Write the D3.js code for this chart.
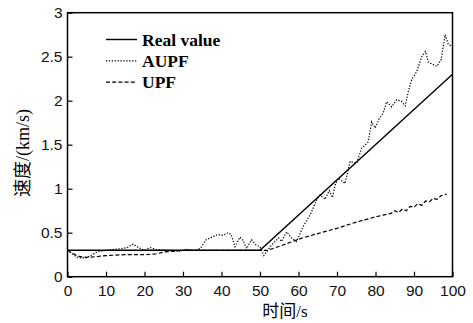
<!DOCTYPE html>
<html><head><meta charset="utf-8">
<script src="https://cdn.jsdelivr.net/npm/d3@7"></script>
<style>body{margin:0;background:#fff}svg{display:block}</style>
</head><body>
<svg id="c" width="473" height="323"></svg>
<script>
const xTicks = [0,10,20,30,40,50,60,70,80,90,100];
const yTicks = [0,0.5,1,1.5,2,2.5,3];
const yTickLabels = ["0","0.5","1","1.5","2","2.5","3"];

const realT = [0, 50, 100];
const realV = [0.3, 0.3, 2.3];

const aupfT = [0,1,2.5,4.5,6,7.6,10,12,14,15.5,17,18.5,20,21.5,23,25,27,29,31,33,34.5,36,37.5,39,40.4,41.7,42.5,43.5,44.8,45.5,46.5,47.8,49,50,51,53,54.8,55.6,56.9,58.2,59.5,61.2,63,64.7,65.6,66.9,68,68.8,69.5,70.3,72.1,73.4,75.1,76.4,78.1,79,79.9,81,82,82.9,84.2,85.5,86.8,87.7,88.5,89.4,90.7,92,93,93.7,95,95.9,97,98.1,98.9,99.8];
const aupfV = [0.3,0.27,0.22,0.21,0.24,0.28,0.3,0.31,0.32,0.33,0.37,0.33,0.3,0.33,0.31,0.3,0.3,0.29,0.31,0.3,0.32,0.42,0.45,0.48,0.47,0.5,0.48,0.34,0.45,0.42,0.32,0.42,0.36,0.34,0.24,0.36,0.44,0.4,0.51,0.44,0.4,0.57,0.7,0.87,0.93,0.88,0.98,0.9,1.04,1.12,1.06,1.31,1.29,1.46,1.53,1.76,1.69,1.8,1.86,1.99,1.93,2.01,1.99,1.94,2.1,2.24,2.33,2.5,2.56,2.44,2.41,2.39,2.46,2.75,2.64,2.62];

const upfT = [0,1,3,5,8,10,15,20,23,25,30,35,40,45,50,52,56,61,65,70,75,80,82,84,85,86,87,88,89,90,91,92,93,94,95,96,97,98.5];
const upfV = [0.3,0.27,0.23,0.22,0.23,0.24,0.25,0.25,0.26,0.28,0.3,0.3,0.3,0.3,0.3,0.3,0.36,0.44,0.49,0.55,0.62,0.68,0.7,0.72,0.75,0.73,0.77,0.75,0.8,0.79,0.83,0.81,0.86,0.85,0.89,0.88,0.92,0.94];

const legendNames = ["Real value","AUPF","UPF"];

const svg = d3.select("#c");
const L = 67.5, R = 452.5, T = 12.7, B = 276.7;
const x = d3.scaleLinear().domain([0,100]).range([L,R]);
const y = d3.scaleLinear().domain([0,3]).range([B,T]);

const line = d3.line().x(d=>x(d[0])).y(d=>y(d[1]));
const zip = (a,b)=>a.map((t,i)=>[t,b[i]]);

const styles = [
  {dash:null, w:1.4},
  {dash:"1.3,1.6", w:1.2},
  {dash:"4,2.2", w:1.2}
];
const series = [zip(realT,realV), zip(aupfT,aupfV), zip(upfT,upfV)];

svg.append("clipPath").attr("id","pc").append("rect")
  .attr("x",L).attr("y",T).attr("width",R-L).attr("height",B-T);

const g = svg.append("g").attr("clip-path","url(#pc)");
series.forEach((s,i)=>{
  g.append("path").datum(s).attr("d",line).attr("fill","none")
   .attr("stroke","#000").attr("stroke-width",styles[i].w)
   .attr("stroke-dasharray",styles[i].dash);
});

const xa = svg.append("g").attr("transform",`translate(0,${B})`)
  .call(d3.axisBottom(x).tickValues(xTicks).tickSize(-5).tickPadding(8).tickSizeOuter(0));
const ya = svg.append("g").attr("transform",`translate(${L},0)`)
  .call(d3.axisLeft(y).tickValues(yTicks).tickFormat((d,i)=>yTickLabels[i]).tickSize(-5).tickPadding(5).tickSizeOuter(0));
[xa,ya].forEach(a=>{
  a.select(".domain").remove();
  a.selectAll("line").attr("stroke","#000").attr("stroke-width",1.2);
  a.selectAll("text").attr("font-family","Liberation Sans, Arial, sans-serif").attr("font-size",15.5).attr("fill","#111");
});

svg.append("rect").attr("x",L).attr("y",T).attr("width",R-L).attr("height",B-T)
  .attr("fill","none").attr("stroke","#000").attr("stroke-width",1.5);

const leg = svg.append("g");
legendNames.forEach((n,i)=>{
  const yy = 39.5 + i*21.3;
  leg.append("line").attr("x1",106).attr("x2",137).attr("y1",yy).attr("y2",yy)
    .attr("stroke","#000").attr("stroke-width",styles[i].w).attr("stroke-dasharray",styles[i].dash);
  leg.append("text").attr("x",142).attr("y",yy+6).text(n)
    .attr("font-family","Liberation Serif, Times New Roman, serif").attr("font-weight","bold")
    .attr("font-size",17.5).attr("fill","#000");
});

const xt = svg.append("text").attr("x",285).attr("y",317).attr("text-anchor","middle")
  .attr("font-size",17).attr("fill","#000");
xt.append("tspan").attr("font-family","Noto Sans CJK SC").text("时间");
xt.append("tspan").attr("font-family","Liberation Serif, serif").text("/s");

const yt = svg.append("text").attr("transform","translate(29,153) rotate(-90)").attr("text-anchor","middle")
  .attr("font-size",18).attr("fill","#000");
yt.append("tspan").attr("font-family","Noto Sans CJK SC").text("速度");
yt.append("tspan").attr("font-family","Liberation Serif, serif").text("/(km/s)");
</script>
</body></html>
